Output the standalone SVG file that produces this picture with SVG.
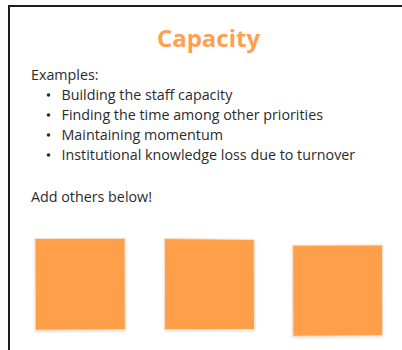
<svg xmlns="http://www.w3.org/2000/svg" width="402" height="350" viewBox="0 0 402 350">
<style>
.t{font-family:"Open Sans","Liberation Sans",sans-serif;font-size:14.3px;fill:#2b2b2b}
.title{font-family:"Open Sans","Liberation Sans",sans-serif;font-size:24px;font-weight:bold;fill:#FF9F4F}
.note{fill:#FF9F4A;stroke:#f6e3d2;stroke-width:1}
</style>
<defs>
<filter id="sh" x="-10%" y="-10%" width="120%" height="120%">
<feDropShadow dx="0" dy="1" stdDeviation="0.8" flood-color="#000" flood-opacity="0.15"/>
</filter>
</defs>
<rect width="402" height="350" fill="#fff"/>
<path d="M9 352 V6 H404" fill="none" stroke="#1c1c1c" stroke-width="2"/>
<g id="title"><text class="title" x="208.5" y="47" text-anchor="middle">Capacity</text></g>
<g id="body">
<text class="t" x="31" y="79.5">Examples:</text>
<circle cx="48.5" cy="95" r="1.8" fill="#2b2b2b"/>
<text class="t" x="61.5" y="99.5">Building the staff capacity</text>
<circle cx="48.5" cy="115" r="1.8" fill="#2b2b2b"/>
<text class="t" x="61.5" y="119.5">Finding the time among other priorities</text>
<circle cx="48.5" cy="135" r="1.8" fill="#2b2b2b"/>
<text class="t" x="61.5" y="139.5">Maintaining momentum</text>
<circle cx="48.5" cy="155" r="1.8" fill="#2b2b2b"/>
<text class="t" x="61.5" y="159.5">Institutional knowledge loss due to turnover</text>
<text class="t" x="31" y="201.5">Add others below!</text>
</g>
<g id="note1"><polygon class="note" filter="url(#sh)" points="35,238.5 125,238.3 125.3,329.8 35.2,330.2"/></g>
<g id="note2"><polygon class="note" filter="url(#sh)" points="164.3,238.6 254.2,239.4 254.5,329.6 164.6,329.8"/></g>
<g id="note3"><polygon class="note" filter="url(#sh)" points="292.7,245.2 382.5,245 382.8,335.7 292.9,336.3"/></g>
</svg>
